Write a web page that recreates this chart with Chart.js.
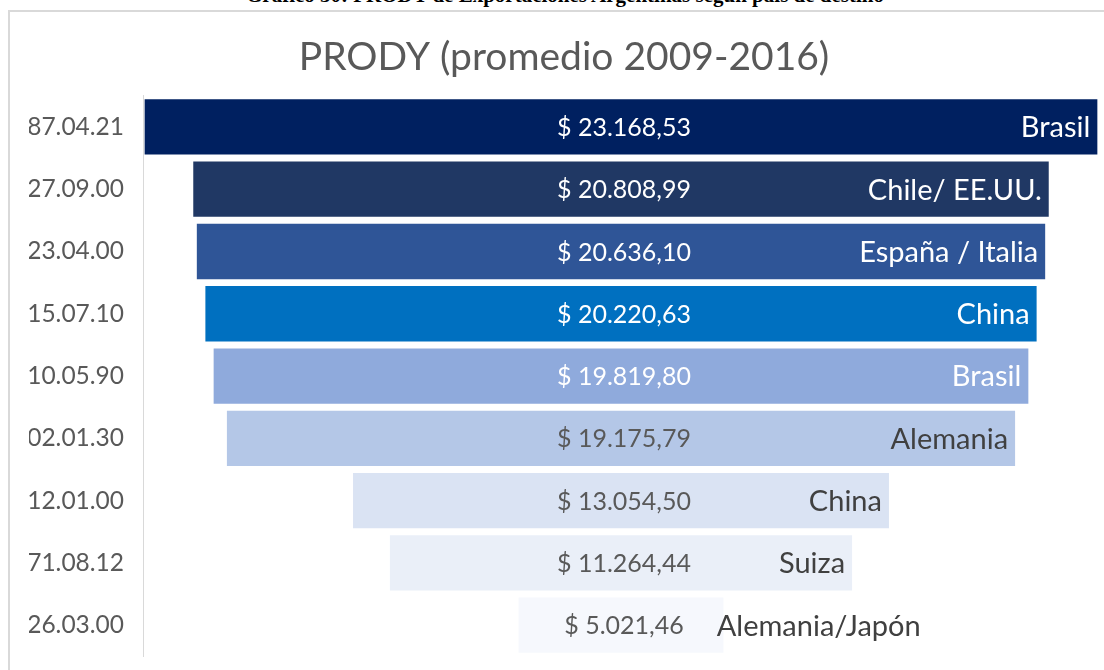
<!DOCTYPE html>
<html>
<head>
<meta charset="utf-8">
<script src="https://cdn.jsdelivr.net/npm/chart.js@4"></script>
<style>
  html, body { margin: 0; padding: 0; background: #fff; overflow: hidden; width: 1104px; height: 670px; }
  #caption { position: absolute; left: 0; width: 1130px; top: -15px; text-align: center;
    font-family: "Liberation Serif", serif; font-weight: bold; font-size: 21px; line-height: 1; color: #000; white-space: nowrap; }
  #frame { position: absolute; left: 8px; top: 10px; width: 1108px; height: 680px;
    border-left: 2px solid #D9D9D9; border-top: 2px solid #D9D9D9; background: #fff; }
  canvas { display: block; }
</style>
</head>
<body>
<div id="caption">Gráfico 30: PRODY de Exportaciones Argentinas según país de destino</div>
<div id="frame"><canvas id="c" width="1108" height="678"></canvas></div>
<script>
const categories = ["87.04.21", "27.09.00", "23.04.00", "15.07.10", "10.05.90", "02.01.30", "12.01.00", "71.08.12", "26.03.00"];
const values = [23168.53, 20808.99, 20636.10, 20220.63, 19819.80, 19175.79, 13054.50, 11264.44, 5021.46];
const valueLabels = ["$ 23.168,53", "$ 20.808,99", "$ 20.636,10", "$ 20.220,63", "$ 19.819,80", "$ 19.175,79", "$ 13.054,50", "$ 11.264,44", "$ 5.021,46"];
const countries = ["Brasil", "Chile/ EE.UU.", "España / Italia", "China", "Brasil", "Alemania", "China", "Suiza", "Alemania/Japón"];
const barColors = ["#002060", "#203864", "#2F5597", "#0070C0", "#8FAADC", "#B4C7E7", "#DAE3F3", "#EAEFF8", "#F6F8FD"];
const valueTextColors = ["#FFFFFF", "#FFFFFF", "#FFFFFF", "#FFFFFF", "#FFFFFF", "#595959", "#595959", "#595959", "#595959"];
const countryTextColors = ["#FFFFFF", "#FFFFFF", "#FFFFFF", "#FFFFFF", "#FFFFFF", "#404040", "#404040", "#404040", "#404040"];
const titleText = "PRODY (promedio 2009-2016)";

const FONT = "Lato, 'Open Sans', sans-serif";

const labelPlugin = {
  id: 'funnelLabels',
  afterDatasetsDraw(chart) {
    const ctx = chart.ctx;
    const meta = chart.getDatasetMeta(0);
    ctx.save();
    ctx.textBaseline = 'middle';
    meta.data.forEach((bar, i) => {
      const left = Math.min(bar.x, bar.base);
      const right = Math.max(bar.x, bar.base);
      const cx = (left + right) / 2 + 3;
      const cy = bar.y + 1;
      ctx.font = "25px " + FONT;
      ctx.fillStyle = valueTextColors[i];
      ctx.textAlign = 'center';
      ctx.fillText(valueLabels[i], cx, cy);
      const vw = ctx.measureText(valueLabels[i]).width;
      const vRight = cx + vw / 2;
      ctx.font = "29px " + FONT;
      ctx.fillStyle = countryTextColors[i];
      const cw = ctx.measureText(countries[i]).width;
      if (right - 8 - cw > vRight + 20) {
        ctx.textAlign = 'right';
        ctx.fillText(countries[i], right - 8, cy);
      } else {
        ctx.textAlign = 'left';
        ctx.fillText(countries[i], vRight + 33, cy);
      }
    });
    ctx.restore();
  }
};

const maxHalf = 11600;

new Chart(document.getElementById('c'), {
  type: 'bar',
  data: {
    labels: categories,
    datasets: [{
      data: values.map(v => [-v / 2, v / 2]),
      backgroundColor: barColors,
      borderColor: 'rgba(255,255,255,0.35)',
      borderWidth: 1,
      borderSkipped: false,
      barPercentage: 0.92,
      categoryPercentage: 1.0
    }]
  },
  options: {
    indexAxis: 'y',
    responsive: false,
    maintainAspectRatio: false,
    animation: false,
    devicePixelRatio: 1,
    layout: { padding: { left: 19, right: 19, top: 0, bottom: 14 } },
    plugins: {
      legend: { display: false },
      tooltip: { enabled: false },
      title: {
        display: true,
        text: titleText,
        color: '#595959',
        font: { family: FONT, size: 39, weight: 'normal', lineHeight: 1.2 },
        padding: { top: 22, bottom: 15 }
      }
    },
    scales: {
      x: { display: false, min: -maxHalf, max: maxHalf },
      y: {
        afterFit(axis) { axis.width = 114; },
        grid: { display: false, drawTicks: false },
        border: { display: true, color: '#D9D9D9', width: 1 },
        ticks: { color: '#595959', font: { family: FONT, size: 24.5 }, padding: 19 }
      }
    }
  },
  plugins: [labelPlugin]
});
</script>
</body>
</html>
